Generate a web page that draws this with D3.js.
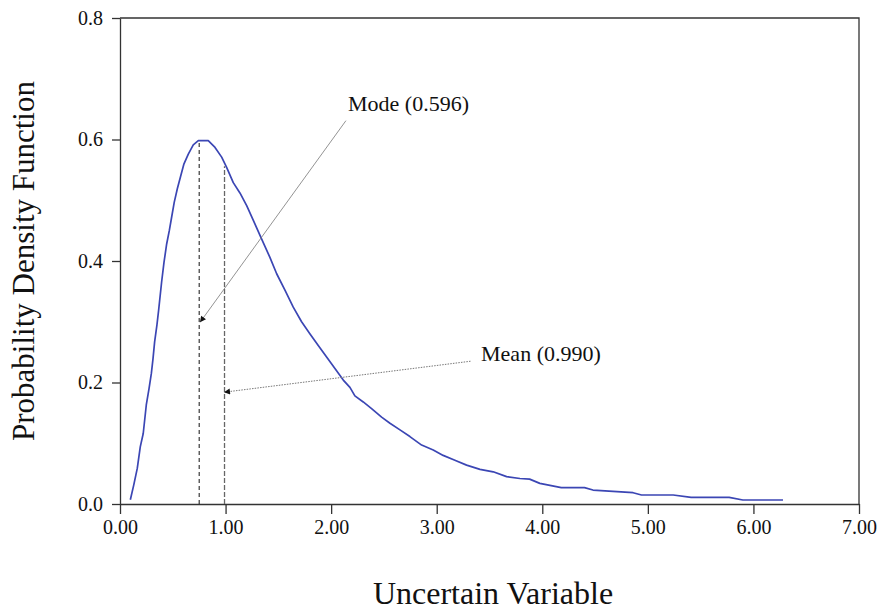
<!DOCTYPE html>
<html>
<head>
<meta charset="utf-8">
<script src="https://cdn.jsdelivr.net/npm/d3@7"></script>
<style>
  body { margin: 0; background: #fff; }
  svg { display: block; font-family: "Liberation Serif", "Times New Roman", serif; }
  .axis path, .axis line { stroke: #333; stroke-width: 1.3; }
  .axis text { font-size: 20px; fill: #111; font-family: "Liberation Serif", serif; }
</style>
</head>
<body>
<div id="chart"></div>
<script>
// Rising side of the histogram density
const riseX = [0.098, 0.13, 0.164, 0.192, 0.22, 0.249, 0.275, 0.297, 0.3125, 0.328, 0.35, 0.366,
  0.394, 0.417, 0.442, 0.467, 0.489, 0.514, 0.543, 0.575, 0.606, 0.647, 0.694];
const riseY = [0.007, 0.031, 0.059, 0.094, 0.116, 0.163, 0.19, 0.215, 0.239, 0.267, 0.295, 0.319,
  0.365, 0.398, 0.428, 0.45, 0.472, 0.497, 0.519, 0.54, 0.56, 0.576, 0.591];

// Peak and falling tail
const tailX = [0.742, 0.836, 0.9, 0.963, 1.01, 1.073, 1.136, 1.2, 1.263, 1.342, 1.42, 1.484, 1.5625,
  1.641, 1.72, 1.8, 1.878, 1.957, 2.036, 2.115, 2.178, 2.225, 2.304, 2.383, 2.478, 2.557, 2.652,
  2.746, 2.857, 2.967, 3.061, 3.172, 3.283, 3.41, 3.535, 3.662, 3.788, 3.88, 3.977, 4.18, 4.40,
  4.48, 4.86, 4.94, 5.24, 5.41, 5.77, 5.90, 6.28];
const tailY = [0.598, 0.598, 0.587, 0.571, 0.554, 0.529, 0.512, 0.491, 0.467, 0.436, 0.406, 0.379, 0.352,
  0.324, 0.30, 0.28, 0.261, 0.242, 0.223, 0.204, 0.192, 0.178, 0.168, 0.157, 0.143, 0.133, 0.122,
  0.111, 0.097, 0.089, 0.080, 0.072, 0.064, 0.057, 0.053, 0.045, 0.042, 0.041, 0.034, 0.027, 0.027,
  0.023, 0.0186, 0.0148, 0.0148, 0.011, 0.011, 0.0066, 0.0066];

const xTicks = [0, 1, 2, 3, 4, 5, 6, 7];
const yTicks = [0, 0.2, 0.4, 0.6, 0.8];

const modeX = 0.75, modeTop = 0.598, modeLabel = 'Mode (0.596)';
const meanX = 0.99, meanTop = 0.556, meanLabel = 'Mean (0.990)';

const W = 878, H = 610;
const margin = { top: 18, right: 19, bottom: 106, left: 120 };
const w = W - margin.left - margin.right;
const h = H - margin.top - margin.bottom;

const svg = d3.select('#chart').append('svg').attr('width', W).attr('height', H);
const g = svg.append('g').attr('transform', `translate(${margin.left},${margin.top})`);

const x = d3.scaleLinear().domain([0, 7]).range([0, w]);
const y = d3.scaleLinear().domain([0, 0.8]).range([h, 0]);

// arrowhead
svg.append('defs').append('marker')
  .attr('id', 'arrow')
  .attr('viewBox', '0 0 10 10')
  .attr('refX', 10).attr('refY', 5)
  .attr('markerWidth', 9).attr('markerHeight', 6)
  .attr('markerUnits', 'userSpaceOnUse')
  .attr('orient', 'auto')
  .append('path').attr('d', 'M0,0L10,5L0,10Z').attr('fill', '#111');

// frame (top + right)
g.append('path')
  .attr('d', `M0,0H${w}V${h}`)
  .attr('fill', 'none').attr('stroke', '#333').attr('stroke-width', 1.3);

// axes
g.append('g').attr('class', 'axis')
  .attr('transform', `translate(0,${h})`)
  .call(d3.axisBottom(x).tickValues(xTicks).tickFormat(d3.format('.2f')).tickSize(10).tickSizeOuter(0).tickPadding(6));

g.append('g').attr('class', 'axis')
  .call(d3.axisLeft(y).tickValues(yTicks).tickFormat(d3.format('.1f')).tickSize(8).tickSizeOuter(0).tickPadding(9));

// mode / mean verticals
g.append('line')
  .attr('x1', x(modeX)).attr('x2', x(modeX))
  .attr('y1', y(0)).attr('y2', y(modeTop))
  .attr('stroke', '#111').attr('stroke-width', 1).attr('stroke-dasharray', '4,3');

g.append('line')
  .attr('x1', x(meanX)).attr('x2', x(meanX))
  .attr('y1', y(0)).attr('y2', y(meanTop))
  .attr('stroke', '#666').attr('stroke-width', 1.3).attr('stroke-dasharray', '5,2');

// density curve
const pts = riseX.map((d, i) => [d, riseY[i]])
  .concat(tailX.map((d, i) => [d, tailY[i]]));

const line = d3.line().x(d => x(d[0])).y(d => y(d[1]));

g.append('path')
  .attr('d', line(pts))
  .attr('fill', 'none')
  .attr('stroke', '#3b46b4')
  .attr('stroke-width', 1.7)
  .attr('stroke-linejoin', 'round');

// annotations
g.append('line')
  .attr('x1', x(2.14)).attr('y1', y(0.631))
  .attr('x2', x(0.758)).attr('y2', y(0.299))
  .attr('stroke', '#777').attr('stroke-width', 0.8)
  .attr('marker-end', 'url(#arrow)');

g.append('line')
  .attr('x1', x(3.32)).attr('y1', y(0.235))
  .attr('x2', x(0.985)).attr('y2', y(0.184))
  .attr('stroke', '#777').attr('stroke-width', 1).attr('stroke-dasharray', '1.5,1.2')
  .attr('marker-end', 'url(#arrow)');

g.append('text')
  .attr('x', x(2.16)).attr('y', y(0.647))
  .attr('font-size', 22).attr('fill', '#111')
  .text(modeLabel);

g.append('text')
  .attr('x', x(3.42)).attr('y', y(0.235))
  .attr('font-size', 22).attr('fill', '#111')
  .text(meanLabel);

// axis titles
svg.append('text')
  .attr('x', 493).attr('y', 604)
  .attr('text-anchor', 'middle')
  .attr('font-size', 32).attr('fill', '#111')
  .text('Uncertain Variable');

svg.append('text')
  .attr('transform', `translate(34,${margin.top + y(0.4)}) rotate(-90)`)
  .attr('text-anchor', 'middle')
  .attr('font-size', 31).attr('fill', '#111')
  .text('Probability Density Function');
</script>
</body>
</html>
